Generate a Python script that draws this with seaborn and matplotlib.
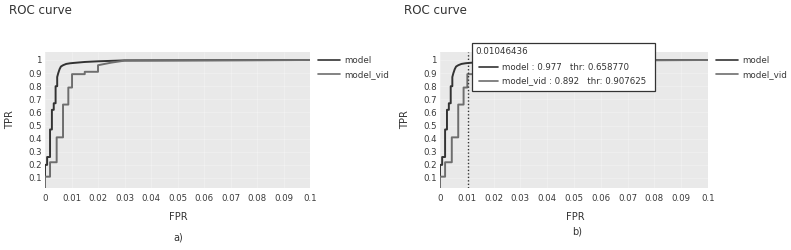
import numpy as np
import pandas as pd
import matplotlib
matplotlib.use("Agg")
import matplotlib.pyplot as plt
import seaborn as sns
from matplotlib.lines import Line2D
from matplotlib.patches import Rectangle

# ---- data ----
model_names = ["model", "model_vid"]
model_fpr = [0, 0, 0.0008, 0.0008, 0.0019, 0.0019, 0.0026, 0.0026, 0.0033, 0.0033,
             0.0040, 0.0040, 0.0046, 0.0046, 0.0050, 0.0055, 0.0060, 0.0068, 0.0080,
             0.0095, 0.0105, 0.015, 0.020, 0.030, 0.1]
model_tpr = [0, 0.20, 0.20, 0.26, 0.26, 0.47, 0.47, 0.62, 0.62, 0.67,
             0.67, 0.80, 0.80, 0.87, 0.90, 0.93, 0.95, 0.96, 0.97,
             0.975, 0.977, 0.985, 0.99, 0.997, 1.0]
vid_fpr = [0, 0, 0.0019, 0.0019, 0.0044, 0.0044, 0.0068, 0.0068, 0.0088, 0.0088,
           0.0102, 0.0102, 0.0150, 0.0150, 0.0200, 0.0200, 0.0250, 0.0300, 0.1]
vid_tpr = [0, 0.11, 0.11, 0.22, 0.22, 0.41, 0.41, 0.66, 0.66, 0.79,
           0.79, 0.892, 0.892, 0.91, 0.91, 0.96, 0.98, 0.995, 1.0]

x_ticks = [0, 0.01, 0.02, 0.03, 0.04, 0.05, 0.06, 0.07, 0.08, 0.09, 0.1]
x_tick_labels = ["0", "0.01", "0.02", "0.03", "0.04", "0.05", "0.06", "0.07", "0.08", "0.09", "0.1"]
y_ticks = [0.1, 0.2, 0.3, 0.4, 0.5, 0.6, 0.7, 0.8, 0.9, 1.0]
y_tick_labels = ["0.1", "0.2", "0.3", "0.4", "0.5", "0.6", "0.7", "0.8", "0.9", "1"]

hover_fpr = 0.01046436
hover_tpr = [0.977, 0.892]
hover_thr = [0.658770, 0.907625]

colors = {"model": "#333333", "model_vid": "#6e6e6e"}

df = pd.concat([
    pd.DataFrame({"fpr": model_fpr, "tpr": model_tpr, "series": "model"}),
    pd.DataFrame({"fpr": vid_fpr, "tpr": vid_tpr, "series": "model_vid"}),
], ignore_index=True)

sns.set_theme(style="white")
plt.rcParams["font.family"] = ["DejaVu Sans"]

W, H = 791, 250
fig = plt.figure(figsize=(W / 100, H / 100), dpi=100)


def px_axes(x0, y0, x1, y1):
    return fig.add_axes([x0 / W, 1 - y1 / H, (x1 - x0) / W, (y1 - y0) / H])


def fig_xy(x, y):
    return x / W, 1 - y / H


tick_color = "#3a3a3a"
text_color = "#333333"


def draw_panel(ax, x_leg, letter, letter_x, letter_y, title_x):
    sns.lineplot(data=df, x="fpr", y="tpr", hue="series", sort=False, estimator=None,
                 palette=colors, linewidth=1.4, ax=ax, legend=False)
    ax.set_facecolor("#e9e9e9")
    for s in ax.spines.values():
        s.set_visible(False)
    ax.set_xlim(0, 0.1)
    ax.set_ylim(0.0236, 1.061)
    ax.set_xticks(x_ticks)
    ax.set_xticklabels(x_tick_labels)
    ax.set_yticks(y_ticks)
    ax.set_yticklabels(y_tick_labels)
    ax.tick_params(axis="both", length=0, labelsize=6.2, colors=tick_color)
    ax.tick_params(axis="x", pad=4)
    ax.tick_params(axis="y", pad=2.5)
    ax.grid(True, color="white", linewidth=0.5, alpha=0.35)
    ax.set_xlabel("")
    ax.set_ylabel("")
    # legend
    handles = [Line2D([0], [0], color=colors[n], lw=1.2) for n in model_names]
    fig.legend(handles, model_names, loc="upper left",
               bbox_to_anchor=fig_xy(x_leg, 56), frameon=False, fontsize=6.3,
               handlelength=2.5, handletextpad=0.5, labelspacing=0.6,
               borderpad=0, borderaxespad=0, labelcolor=tick_color)
    fig.text(*fig_xy(title_x, 10), "ROC curve", fontsize=8.6, color=text_color,
             ha="left", va="center")
    fig.text(*fig_xy(letter_x, letter_y), letter, fontsize=7, color=text_color,
             ha="center", va="center")


ax_a = px_axes(45, 52, 310, 188)
draw_panel(ax_a, 318, "a)", 178, 237, 9)
fig.text(*fig_xy(10, 120), "TPR", fontsize=7.2, rotation=90, color=text_color,
         ha="center", va="center")
fig.text(*fig_xy(178, 217), "FPR", fontsize=7.2, color=text_color, ha="center", va="center")

ax_b = px_axes(440, 52, 708, 188)
draw_panel(ax_b, 716, "b)", 577, 231, 404)
fig.text(*fig_xy(405, 120), "TPR", fontsize=7.2, rotation=90, color=text_color,
         ha="center", va="center")
fig.text(*fig_xy(575, 217), "FPR", fontsize=7.2, color=text_color, ha="center", va="center")

# hover line + tooltip in panel b
ax_b.axvline(hover_fpr, color="#333333", linestyle=(0, (1, 1.5)), linewidth=1.0)

bx0, by0, bx1, by1 = 472, 43, 655, 91
fig.patches.append(Rectangle(fig_xy(bx0, by1), (bx1 - bx0) / W, (by1 - by0) / H,
                             transform=fig.transFigure, facecolor="white",
                             edgecolor="#333333", linewidth=0.9, zorder=5))
fig.text(*fig_xy(475, 51), f"{hover_fpr:.8f}", fontsize=6.3, color=text_color,
         ha="left", va="center", zorder=6)
for i, (name, yy) in enumerate(zip(model_names, [67, 81])):
    x0, y0 = fig_xy(479, yy)
    x1, _ = fig_xy(498, yy)
    fig.lines.append(Line2D([x0, x1], [y0, y0], transform=fig.transFigure,
                            color=colors[name], lw=1.2, zorder=6))
    fig.text(*fig_xy(502, yy),
             f"{name} : {hover_tpr[i]:.3f}   thr: {hover_thr[i]:.6f}",
             fontsize=6.2, color=text_color, ha="left", va="center", zorder=6)

fig.savefig("out.png", dpi=100, facecolor="white")
